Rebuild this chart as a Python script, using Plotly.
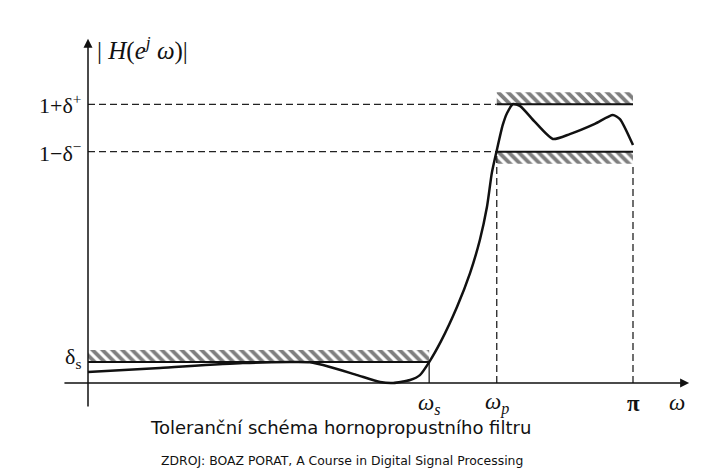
import numpy as np
import plotly.graph_objects as go

PI = np.pi

# ---- data (frequencies in units of pi, magnitudes) ----
curve_w = [0.0, 0.132, 0.284, 0.370, 0.407, 0.444, 0.494, 0.536, 0.560, 0.591,
           0.609, 0.626, 0.648, 0.677, 0.701, 0.719, 0.732, 0.741, 0.750, 0.761,
           0.769, 0.780, 0.793, 0.820, 0.853, 0.884, 0.930, 0.963, 0.976, 1.0]
curve_h = [0.043, 0.059, 0.078, 0.082, 0.081, 0.063, 0.031, 0.004, 0.0, 0.012,
           0.031, 0.082, 0.165, 0.298, 0.431, 0.561, 0.690, 0.824, 0.912, 1.012,
           1.059, 1.094, 1.086, 1.024, 0.957, 0.976, 1.016, 1.051, 1.035, 0.933]

omega_s = 0.626   # x pi
omega_p = 0.750   # x pi
delta_plus = 0.093
delta_minus = 0.093
delta_s = 0.082
band = 0.047

tick_labels = ["<i>ω</i><sub><i>s</i></sub>", "<i>ω</i><sub><i>p</i></sub>", "<b>π</b>"]
tick_pos = [omega_s, omega_p, 1.0]
level_labels = ["1+δ<sup>+</sup>", "1−δ<sup>−</sup>", "δ<sub>s</sub>"]

SERIF = "Liberation Serif, DejaVu Serif, serif"

fig = go.Figure()

def w(v):
    return v * PI

up = 1 + delta_plus
lo = 1 - delta_minus

# hatched bands
def hatch(x0, x1, y0, y1):
    fig.add_trace(go.Scatter(
        x=[w(x0), w(x1), w(x1), w(x0), w(x0)], y=[y0, y0, y1, y1, y0],
        mode="lines", fill="toself", line=dict(width=0, color="black"),
        fillcolor="white",
        fillpattern=dict(shape="\\", fgcolor="#000", bgcolor="white", size=7, solidity=0.55),
        hoverinfo="skip", showlegend=False))

hatch(omega_p, 1.0, up, up + band)
hatch(omega_p, 1.0, lo - band, lo)
hatch(0.0, omega_s, delta_s, delta_s + band)

# solid band edges
for x0, x1, y in [(omega_p, 1.0, up), (omega_p, 1.0, lo), (0.0, omega_s, delta_s)]:
    fig.add_trace(go.Scatter(x=[w(x0), w(x1)], y=[y, y], mode="lines",
                             line=dict(color="#111", width=2), hoverinfo="skip", showlegend=False))

# dashed guides
dash = "7px,4px"
for y in [up, lo]:
    fig.add_trace(go.Scatter(x=[0, w(omega_p)], y=[y, y], mode="lines",
                             line=dict(color="#222", width=1.3, dash=dash), hoverinfo="skip", showlegend=False))
fig.add_trace(go.Scatter(x=[w(omega_p), w(omega_p)], y=[0, lo], mode="lines",
                         line=dict(color="#222", width=1.3, dash=dash), hoverinfo="skip", showlegend=False))
fig.add_trace(go.Scatter(x=[w(1.0), w(1.0)], y=[0, lo - band], mode="lines",
                         line=dict(color="#222", width=1.3, dash=dash), hoverinfo="skip", showlegend=False))
# omega_s tick
fig.add_trace(go.Scatter(x=[w(omega_s), w(omega_s)], y=[0, delta_s], mode="lines",
                         line=dict(color="#222", width=1.3), hoverinfo="skip", showlegend=False))

# response curve
fig.add_trace(go.Scatter(x=[w(v) for v in curve_w], y=curve_h, mode="lines",
                         line=dict(color="#111", width=2.5, shape="spline", smoothing=0.6),
                         hoverinfo="skip", showlegend=False))

# axes as arrows
fig.add_annotation(x=w(1.103), y=0, ax=w(-0.046), ay=0, axref="x", ayref="y",
                   text="", showarrow=True, arrowhead=2, arrowsize=1.2, arrowwidth=1.5, arrowcolor="#111")
fig.add_annotation(x=0, y=1.35, ax=0, ay=-0.098, axref="x", ayref="y",
                   text="", showarrow=True, arrowhead=2, arrowsize=1.2, arrowwidth=1.5, arrowcolor="#111")

# axis tick labels
for lab, p in zip(tick_labels, tick_pos):
    fig.add_annotation(x=w(p), y=-0.082, text=lab, showarrow=False, yanchor="middle",
                       font=dict(family=SERIF, size=23, color="#111"))
fig.add_annotation(x=w(1.081), y=-0.075, text="<i>ω</i>", showarrow=False, yanchor="middle",
                   font=dict(family=SERIF, size=23, color="#111"))

for lab, yv in zip(level_labels, [up, lo, delta_s + 0.017]):
    fig.add_annotation(x=w(-0.009), y=yv, text=lab, showarrow=False, xanchor="right",
                       yanchor="middle", font=dict(family=SERIF, size=22, color="#111"))

fig.add_annotation(x=w(0.013), y=1.313, xanchor="left", yanchor="middle",
                   text="| <i>H</i>(<i>e</i><sup><i>j</i></sup> <i>ω</i>)|", showarrow=False,
                   font=dict(family=SERIF, size=25, color="#111"))

# captions
fig.add_annotation(x=0.478, y=1 - 427 / 471, xref="paper", yref="paper", yanchor="middle",
                   text="Toleranční schéma hornopropustního filtru", showarrow=False,
                   font=dict(family="DejaVu Sans", size=18, color="#111"))
fig.add_annotation(x=0.480, y=1 - 460 / 471, xref="paper", yref="paper", yanchor="middle",
                   text="ZDROJ: BOAZ PORAT, A Course in Digital Signal Processing", showarrow=False,
                   font=dict(family="DejaVu Sans", size=12.4, color="#111"))

px_per_rad = 545 / PI
fig.update_layout(
    width=712, height=471, margin=dict(l=0, r=0, t=0, b=0),
    paper_bgcolor="white", plot_bgcolor="white",
    xaxis=dict(range=[-88 / px_per_rad, (712 - 88) / px_per_rad], visible=False, fixedrange=True),
    yaxis=dict(range=[-88 / 255, 383 / 255], visible=False, fixedrange=True),
)

fig.write_html("out.html", config={"displayModeBar": False},
               post_script="document.body.style.margin='0px';")
